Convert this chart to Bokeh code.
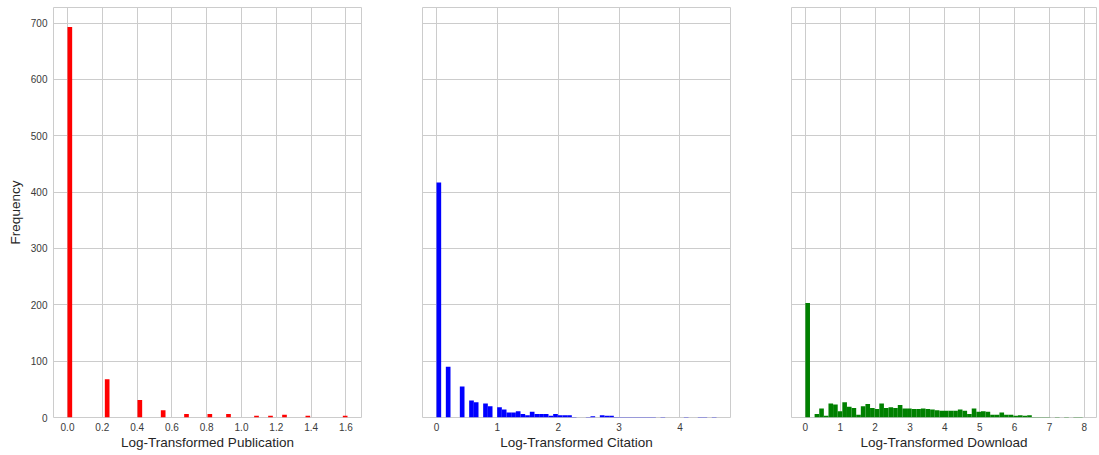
from bokeh.plotting import figure
from bokeh.layouts import row
from bokeh.models import Range1d, FixedTicker, NumeralTickFormatter
from bokeh.embed import file_html
from bokeh.resources import INLINE

# ---- data (histogram counts, 60 equal bins from 0 to the max value) ----
pub_max = 1.609
pub_counts = [
    693, 0, 0, 0, 0, 0, 0, 0, 68, 0,
    0, 0, 0, 0, 0, 31, 0, 0, 0, 0,
    13, 0, 0, 0, 0, 6, 0, 0, 0, 0,
    6, 0, 0, 0, 6, 0, 0, 0, 0, 0,
    3, 0, 0, 3, 0, 0, 5, 0, 0, 0,
    0, 3, 0, 0, 0, 0, 0, 0, 0, 3]

cit_max = 4.6
cit_counts = [
    417, 0, 90, 0, 0, 55, 0, 30, 27, 0,
    25, 20, 0, 18, 14, 9, 9, 11, 6, 4,
    10, 6, 6, 6, 3, 6, 4, 4, 4, 1,
    0, 0, 1, 2, 0, 4, 3, 3, 1, 1,
    1, 1, 1, 1, 1, 1, 1, 0, 1, 0,
    0, 0, 0, 1, 0, 0, 1, 1, 0, 1]

dl_max = 7.95
dl_counts = [
    203, 0, 6, 16, 3, 25, 23, 11, 27, 19,
    17, 5, 20, 24, 17, 15, 25, 17, 18, 17,
    22, 16, 16, 15, 15, 16, 15, 14, 13, 12,
    12, 12, 12, 14, 12, 6, 16, 10, 11, 10,
    5, 5, 9, 5, 5, 3, 4, 3, 4, 1,
    1, 1, 1, 0, 1, 0, 1, 0, 1, 1]

pub_ticks = [0.0, 0.2, 0.4, 0.6, 0.8, 1.0, 1.2, 1.4, 1.6]
cit_ticks = [0, 1, 2, 3, 4]
dl_ticks = [0, 1, 2, 3, 4, 5, 6, 7, 8]
y_ticks = [0, 100, 200, 300, 400, 500, 600, 700]

labels = ["Log-Transformed Publication", "Log-Transformed Citation", "Log-Transformed Download"]
colors = ["#ff0000", "#0000ff", "#008000"]

FONT = "Liberation Sans"
TXT = "#262626"
TICK_TXT = "#3a3a3a"
GRID = "#cccccc"

all_max = max(max(pub_counts), max(cit_counts), max(dl_counts))
y_range = Range1d(0, all_max * 1.05)


def make_panel(counts, vmax, ticks, label, color, first, left, fw, fmt=None):
    n = len(counts)
    w = vmax / n
    lefts = [i * w for i in range(n)]
    rights = [(i + 1) * w for i in range(n)]
    p = figure(width=left + fw + 1, height=455, output_backend="svg",
               toolbar_location=None, x_range=Range1d(-0.05 * vmax, 1.05 * vmax),
               y_range=y_range, min_border_left=left, min_border_right=1,
               min_border_top=7, min_border_bottom=38)
    p.quad(left=lefts, right=rights, bottom=0, top=counts, fill_color=color,
           line_color=None)
    p.outline_line_color = GRID
    p.outline_line_width = 1
    p.background_fill_color = "white"
    p.border_fill_color = "white"
    p.xaxis.ticker = FixedTicker(ticks=ticks)
    p.yaxis.ticker = FixedTicker(ticks=y_ticks)
    p.xgrid.ticker = FixedTicker(ticks=ticks)
    p.ygrid.ticker = FixedTicker(ticks=y_ticks)
    p.xgrid.grid_line_color = GRID
    p.ygrid.grid_line_color = GRID
    if fmt:
        p.xaxis.formatter = NumeralTickFormatter(format=fmt)
    for ax in [p.xaxis[0], p.yaxis[0]]:
        ax.axis_line_color = None
        ax.major_tick_line_color = None
        ax.minor_tick_line_color = None
        ax.major_tick_in = 0
        ax.major_tick_out = 0
        ax.minor_tick_in = 0
        ax.minor_tick_out = 0
        ax.major_label_text_font = FONT
        ax.major_label_text_font_size = "10px"
        ax.major_label_text_color = TICK_TXT
        ax.axis_label_text_font = FONT
        ax.axis_label_text_font_size = "13.5px"
        ax.axis_label_text_font_style = "normal"
        ax.axis_label_text_color = TXT
    p.xaxis.axis_label = label
    p.xaxis.major_label_standoff = 5
    p.xaxis.axis_label_standoff = 1
    if first:
        p.yaxis.axis_label = "Frequency"
        p.yaxis.major_label_standoff = 6
        p.yaxis.axis_label_standoff = 5
    else:
        p.yaxis.visible = False
    return p


p1 = make_panel(pub_counts, pub_max, pub_ticks, labels[0], colors[0], True, 53, 308, "0.0")
p2 = make_panel(cit_counts, cit_max, cit_ticks, labels[1], colors[1], False, 60, 308)
p3 = make_panel(dl_counts, dl_max, dl_ticks, labels[2], colors[2], False, 60, 305)

layout = row(p1, p2, p3)
layout.spacing = 0

open("out.html", "w").write(file_html(layout, INLINE))
